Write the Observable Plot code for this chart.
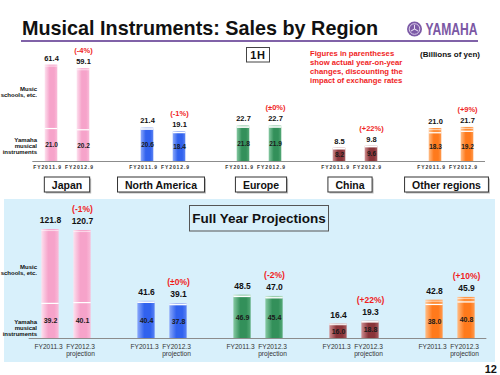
<!DOCTYPE html>
<html><head><meta charset="utf-8">
<script src="https://cdn.jsdelivr.net/npm/d3@7"></script>
<script src="https://cdn.jsdelivr.net/npm/@observablehq/plot@0.6"></script>
<style>
body{margin:0;background:#fff;font-family:"Liberation Sans",Arial,sans-serif;}
#page{position:relative;width:500px;height:375px;overflow:hidden;background:#fff;}
#top{position:absolute;left:0;top:42px;}
#bottom{position:absolute;left:4px;top:199px;}
#overlay{position:absolute;left:0;top:0;pointer-events:none;}
#bottom svg, #top svg{display:block;}
</style></head><body>
<div id="page"><div id="top"></div><div id="bottom"></div><svg id="overlay" width="500" height="375"></svg></div>
<script>
// ---------- data ----------
const regions = ["Japan", "North America", "Europe", "China", "Other regions"];
const halfYearLabels = ["FY2011.9", "FY2012.9"];
const fullYearLabels = ["FY2011.3", "FY2012.3\nprojection"];
const halfTotals = [[61.4, 59.1], [21.4, 19.1], [22.7, 22.7], [8.5, 9.8], [21.0, 21.7]];
const halfInstruments = [[21.0, 20.2], [20.6, 18.4], [21.8, 21.9], [8.2, 9.6], [18.3, 19.2]];
const halfChange = ["(-4%)", "(-1%)", "(±0%)", "(+22%)", "(+9%)"];
const fullTotals = [[121.8, 120.7], [41.6, 39.1], [48.5, 47.0], [16.4, 19.3], [42.8, 45.9]];
const fullInstruments = [[39.2, 40.1], [40.4, 37.8], [46.9, 45.4], [16.0, 18.8], [38.0, 40.8]];
const fullChange = ["(-1%)", "(±0%)", "(-2%)", "(+22%)", "(+10%)"];
const segmentLabels = [["Music", "schools, etc."], ["Yamaha", "musical", "instruments"]];
const titleText = "Musical Instruments: Sales by Region";
const periodLabel = "1H";
const fullYearTitle = "Full Year Projections";
const noteLines = ["Figures in parentheses", "show actual year-on-year", "changes, discounting the", "impact of exchange rates"];
const unitLabel = "(Billions of yen)";
const pageNumber = "12";
const brand = "YAMAHA";

// ---------- styles ----------
const FONT = '"Liberation Sans", Arial, sans-serif';
const palette = [
  {lo: ["#fde0ee", "#f6a3ca", "#f9bcd9"], hi: ["#fde0ee", "#f6a3ca", "#f9bcd9"]},
  {lo: ["#8aa8fa", "#3162ee", "#5a82f3"], hi: ["#d3defc", "#a3b9f5", "#bccbf8"]},
  {lo: ["#86c9a2", "#33905a", "#55a977"], hi: ["#cbe8d6", "#92cba8", "#b0d9bf"]},
  {lo: ["#cf8f92", "#8a3439", "#a65a5e"], hi: ["#ead0d1", "#c49193", "#d8b0b2"]},
  {lo: ["#ffbd86", "#ff7a1c", "#ff9a4e"], hi: ["#ffc898", "#ff8d36", "#ffa863"]}
];
const boxShift = [0, -2, 2, -5, -4.5];

const overlay = d3.select("#overlay");
const defs = overlay.append("defs");
palette.forEach((p, i) => {
  ["lo", "hi"].forEach(s => {
    const g = defs.append("linearGradient").attr("id", `g${i}${s}`).attr("x1", 0).attr("x2", 1).attr("y1", 0).attr("y2", 0);
    g.append("stop").attr("offset", 0).attr("stop-color", p[s][0]);
    g.append("stop").attr("offset", 0.4).attr("stop-color", p[s][1]);
    g.append("stop").attr("offset", 0.75).attr("stop-color", p[s][1]);
    g.append("stop").attr("offset", 1).attr("stop-color", p[s][2]);
  });
});

function buildRows(totals, inner, change, labels) {
  const out = [];
  regions.forEach((r, i) => labels.forEach((lab, j) => out.push({
    region: r, idx: i, j, key: r + "|" + j, label: lab,
    total: totals[i][j], inner: inner[i][j], change: j === 1 ? change[i] : null
  })));
  return out;
}
const keys = regions.flatMap((r, i) => i ? ["gap" + i, r + "|0", r + "|1"] : [r + "|0", r + "|1"]);
const tickKeys = regions.flatMap(r => [r + "|0", r + "|1"]);

function chart(rows, labels, cfg) {
  const marks = [];
  regions.forEach((r, i) => {
    const d = rows.filter(x => x.idx === i);
    marks.push(Plot.barY(d, {x: "key", y1: 0, y2: "inner", fill: `url(#g${i}lo)`, insetLeft: cfg.inset, insetRight: cfg.inset}));
    marks.push(Plot.barY(d, {x: "key", y1: "inner", y2: "total", fill: `url(#g${i}hi)`, insetLeft: cfg.inset, insetRight: cfg.inset}));
  });
  marks.push(Plot.tickY(rows, {x: "key", y: "inner", stroke: "white", strokeWidth: 1.2, insetLeft: cfg.inset, insetRight: cfg.inset}));
  marks.push(Plot.tickY(rows, {x: "key", y: "total", stroke: "white", strokeOpacity: 0.55, strokeWidth: 1.2, dy: 1, insetLeft: cfg.inset, insetRight: cfg.inset}));
  marks.push(Plot.ruleY([0], {stroke: "#8c8c8c", strokeWidth: 1}));
  marks.push(Plot.axisX(tickKeys, {
    tickSize: 0, tickPadding: cfg.tickPad, dx: cfg.tickDx,
    tickFormat: k => labels[+k.split("|")[1]],
    fontSize: cfg.tickFont, fontWeight: cfg.tickWeight, fill: "#333", lineHeight: 1.05,
    label: null
  }));
  marks.push(Plot.text(rows, {x: "key", y: "total", text: d => d.total.toFixed(1), dy: cfg.totalDy,
    fontSize: cfg.totalFont, fontWeight: "bold", fill: "#111", ariaLabel: "totals"}));
  marks.push(Plot.text(rows, {x: "key", y: d => d.inner / 2, text: d => d.inner.toFixed(1),
    fontSize: cfg.innerFont, fontWeight: "bold", fill: "#1a1a1a", ariaLabel: "inner"}));
  marks.push(Plot.text(rows.filter(d => d.change), {x: "key", y: "total", text: "change", dy: cfg.totalDy + cfg.pctDy,
    fontSize: cfg.pctFont, fontWeight: "bold", fill: "#f01e1e", ariaLabel: "pct"}));
  const svg = Plot.plot({
    width: cfg.width, height: cfg.height,
    marginLeft: cfg.ml, marginRight: cfg.mr, marginTop: 0, marginBottom: cfg.mb,
    x: {type: "band", domain: keys, padding: 0, label: null},
    y: {domain: [0, cfg.ymax], axis: null},
    style: {background: cfg.bg, fontFamily: FONT, overflow: "visible"},
    marks
  });
  const s = d3.select(svg);
  s.selectAll('g[aria-label="totals"] text').attr("letter-spacing", cfg.totalLs);
  s.selectAll('g[aria-label="inner"] text').attr("letter-spacing", cfg.innerLs);
  s.selectAll('g[aria-label="pct"] text').attr("letter-spacing", cfg.pctLs);
  s.selectAll('g[aria-label="x-axis tick label"] text').attr("letter-spacing", cfg.tickLs);
  return svg;
}

const topRows = buildRows(halfTotals, halfInstruments, halfChange, halfYearLabels);
const bottomRows = buildRows(fullTotals, fullInstruments, fullChange, fullYearLabels);

const topSvg = chart(topRows, halfYearLabels, {
  width: 500, height: 158, ml: 32.33, mr: 15, mb: 39, ymax: 119 / 1.57, inset: 9.7,
  bg: "transparent", tickPad: 4, tickDx: -4, tickFont: 5, tickWeight: "bold", tickLs: 0.9,
  totalDy: -7, totalFont: 7.5, totalLs: 1.1, innerFont: 6.5, innerLs: 0.7,
  pctDy: -11, pctFont: 7.5, pctLs: 0.6
});
document.getElementById("top").appendChild(topSvg);

const bottomSvg = chart(bottomRows, fullYearLabels, {
  width: 491, height: 163, ml: 24.65, mr: 8.65, mb: 24, ymax: 139 / 0.895, inset: 7.35,
  bg: "#d8f0fb", tickPad: 6, tickDx: -2, tickFont: 6.6, tickWeight: "normal", tickLs: 0,
  totalDy: -9, totalFont: 8.5, totalLs: 0, innerFont: 7, innerLs: 0,
  pctDy: -12, pctFont: 8.5, pctLs: 0
});
document.getElementById("bottom").appendChild(bottomSvg);

// ---------- overlay decorations ----------
function txt(x, y, t, o = {}) {
  return overlay.append("text").attr("x", x).attr("y", y).text(t)
    .attr("font-family", FONT).attr("font-size", o.size || 10)
    .attr("font-weight", o.weight || "bold").attr("fill", o.fill || "#111")
    .attr("text-anchor", o.anchor || "start").attr("dominant-baseline", o.base || "central")
    .attr("letter-spacing", o.ls || 0);
}
// title
txt(22, 35, titleText, {size: 19.8, base: "auto"});
overlay.append("line").attr("x1", 21).attr("x2", 478).attr("y1", 41).attr("y2", 41).attr("stroke", "#8062a8").attr("stroke-width", 2);
// logo
const logo = overlay.append("g").attr("transform", "translate(414.5,29)");
logo.append("circle").attr("r", 7.5).attr("fill", "#7c5aa6");
logo.append("circle").attr("r", 5.3).attr("fill", "none").attr("stroke", "#d8cbe8").attr("stroke-width", 1);
for (let a = 0; a < 3; a++) {
  logo.append("line").attr("x1", 0).attr("y1", 0).attr("x2", 0).attr("y2", -4.2)
    .attr("stroke", "#e6ddf0").attr("stroke-width", 1).attr("transform", `rotate(${a * 120})`);
}
txt(425.5, 35.3, brand, {size: 17, fill: "#7b58a4", base: "auto"})
  .attr("textLength", 52).attr("lengthAdjust", "spacingAndGlyphs");

// 1H box
overlay.append("rect").attr("x", 246.5).attr("y", 47.5).attr("width", 23).attr("height", 14.5).attr("fill", "#fff").attr("stroke", "#444").attr("stroke-width", 1);
txt(258, 55.2, periodLabel, {size: 11, anchor: "middle", ls: 0.8});
// note
noteLines.forEach((l, i) => txt(310, 53 + i * 9.3, l, {size: 7.7, fill: "#f01e1e"}));
txt(420, 54, unitLabel, {size: 8, anchor: "start"});
// page number
txt(497, 368.5, pageNumber, {size: 11, anchor: "end"});

// left segment labels
function segLabels(topY, botY) {
  segmentLabels[0].forEach((l, i) => txt(37, topY + i * 6.2, l, {size: 6, anchor: "end"}));
  segmentLabels[1].forEach((l, i) => txt(37, botY + i * 6.2, l, {size: 6, anchor: "end"}));
}
segLabels(89, 140);
segLabels(267, 321.5);

// region boxes (positioned from the top chart's x scale)
const xs = topSvg.scale("x");
regions.forEach((r, i) => {
  const cx = (xs.apply(r + "|0") + xs.apply(r + "|1")) / 2 + xs.bandwidth / 2 + boxShift[i];
  const g = overlay.append("g");
  const shadow = g.append("rect");
  const rect = g.append("rect");
  const t = g.append("text").attr("x", cx).attr("y", 185).text(r)
    .attr("font-family", FONT).attr("font-size", 10.5).attr("font-weight", "bold")
    .attr("fill", "#111").attr("text-anchor", "middle").attr("dominant-baseline", "central");
  const w = t.node().getComputedTextLength() + 15;
  rect.attr("x", cx - w / 2).attr("y", 177).attr("width", w).attr("height", 15)
    .attr("fill", "#fff").attr("stroke", "#333").attr("stroke-width", 1);
  shadow.attr("x", cx - w / 2 + 1.5).attr("y", 178.5).attr("width", w).attr("height", 15).attr("fill", "#bbb");
});

// Full year projections box
overlay.append("rect").attr("x", 189.5).attr("y", 205.5).attr("width", 139).attr("height", 25.5)
  .attr("fill", "#d8f0fb").attr("stroke", "#555").attr("stroke-width", 1);
txt(259, 218.5, fullYearTitle, {size: 13.5, anchor: "middle"});
</script>
</body></html>
